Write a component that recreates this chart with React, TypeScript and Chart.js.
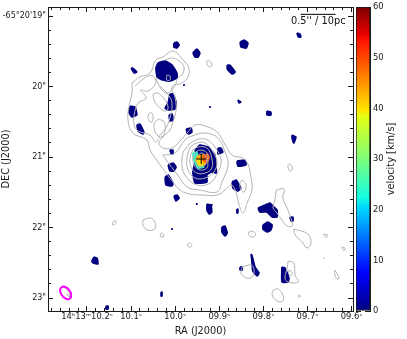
import React, { useEffect, useRef } from "react";
import { Chart, registerables } from "chart.js";

Chart.register(...registerables);

type P = [number, number];

// axis ticks (RA seconds, DEC arcseconds)
const raMajorTicks = [10.2, 10.1, 10.0, 9.9, 9.8, 9.7, 9.6];
const raTickLabels = ["14ʰ13ᵐ10.2ˢ", "10.1ˢ", "10.0ˢ", "09.9ˢ", "09.8ˢ", "09.7ˢ", "09.6ˢ"];
const raMinorTicks = [10.28, 10.26, 10.24, 10.22, 10.2, 10.18, 10.16, 10.14, 10.12, 10.1, 10.08, 10.06, 10.04, 10.02, 10.0, 9.98, 9.96, 9.94, 9.92, 9.9, 9.88, 9.86, 9.84, 9.82, 9.8, 9.78, 9.76, 9.74, 9.72, 9.7, 9.68, 9.66, 9.64, 9.62, 9.6];
const decMajorTicks = [19, 20, 21, 22, 23];
const decTickLabels = ["-65°20'19\"", "20\"", "21\"", "22\"", "23\""];
const decMinorTicks = [19, 19.2, 19.4, 19.6, 19.8, 20, 20.2, 20.4, 20.6, 20.8, 21, 21.2, 21.4, 21.6, 21.8, 22, 22.2, 22.4, 22.6, 22.8, 23];
const velocityTicks = [0, 10, 20, 30, 40, 50, 60];

// contours of the continuum [RA s, DEC "]
const contourOuter: P[] = [[10.098,19.950],[10.080,19.865],[10.057,19.809],[10.044,19.624],[10.028,19.582],[10.005,19.496],[9.982,19.624],[9.969,19.738],[9.971,19.865],[9.985,19.950],[10.007,20.007],[10.000,20.163],[9.998,20.333],[10.005,20.504],[10.012,20.617],[10.030,20.730],[10.037,20.801],[10.028,20.872],[10.007,20.872],[9.989,20.773],[9.973,20.660],[9.955,20.546],[9.932,20.560],[9.905,20.645],[9.889,20.801],[9.871,20.972],[9.848,21.014],[9.835,21.099],[9.828,21.298],[9.826,21.468],[9.837,21.652],[9.846,21.794],[9.855,21.681],[9.862,21.496],[9.873,21.397],[9.887,21.468],[9.905,21.539],[9.937,21.539],[9.966,21.525],[9.989,21.468],[10.012,21.298],[10.034,21.113],[10.057,20.901],[10.064,20.759],[10.096,20.660],[10.107,20.475],[10.105,20.291],[10.098,20.092]];
const contourWest: P[] = [[10.091,19.993],[10.066,19.865],[10.050,19.851],[10.044,19.950],[10.062,20.064],[10.078,20.050],[10.066,20.163],[10.084,20.234],[10.093,20.404],[10.093,20.546],[10.084,20.631],[10.057,20.688],[10.044,20.787],[10.034,20.688],[10.021,20.589],[10.012,20.447],[10.007,20.262],[10.012,20.149],[10.034,19.993]];
const contourNorth: P[] = [[10.044,19.879],[10.039,19.950],[10.030,20.050],[10.016,20.092],[10.000,19.979],[9.994,19.879],[9.982,19.809],[9.982,19.695],[10.005,19.596],[10.023,19.624]];
const contourCentre: P[] = [[10.028,20.972],[10.000,20.943],[9.978,20.759],[9.962,20.702],[9.932,20.660],[9.903,20.730],[9.887,20.929],[9.880,21.113],[9.894,21.355],[9.905,21.496],[9.944,21.468],[9.973,21.425],[9.994,21.255],[10.012,21.113]];
const ring1: P[] = [[9.982,20.929],[9.962,20.787],[9.932,20.745],[9.910,20.858],[9.896,21.043],[9.903,21.213],[9.921,21.369],[9.951,21.397],[9.978,21.255],[9.985,21.071]];
const ring2: P[] = [[9.966,20.858],[9.951,20.801],[9.932,20.801],[9.914,20.929],[9.905,21.085],[9.914,21.227],[9.932,21.298],[9.955,21.298],[9.971,21.184],[9.973,21.000]];
const ring3: P[] = [[9.960,20.901],[9.948,20.858],[9.928,20.872],[9.917,21.014],[9.917,21.156],[9.932,21.227],[9.951,21.227],[9.964,21.142],[9.966,21.000]];
const ring4: P[] = [[9.955,20.943],[9.944,20.901],[9.928,20.943],[9.926,21.071],[9.928,21.156],[9.944,21.184],[9.957,21.113],[9.960,21.014]];
const ring5: P[] = [[9.951,20.986],[9.939,20.943],[9.930,21.014],[9.932,21.113],[9.944,21.142],[9.951,21.085],[9.953,21.014]];
const loopA: P[] = [[10.050,20.106],[10.039,20.092],[10.023,20.191],[10.016,20.305],[10.023,20.348],[10.037,20.291],[10.048,20.191]];
const loopB: P[] = [[10.059,20.376],[10.053,20.376],[10.050,20.447],[10.053,20.504],[10.057,20.504],[10.062,20.433]];
const loopC: P[] = [[10.037,20.461],[10.025,20.504],[10.023,20.617],[10.030,20.716],[10.041,20.688],[10.048,20.589],[10.046,20.504]];
const loopD: P[] = [[9.926,19.624],[9.919,19.652],[9.917,19.709],[9.923,19.723],[9.928,19.681],[9.928,19.638]];
const loopE: P[] = [[10.019,19.837],[10.012,19.851],[10.012,19.908],[10.019,19.908]];
const loopF: P[] = [[9.848,21.326],[9.839,21.397],[9.844,21.496],[9.851,21.468],[9.853,21.369]];
const loopG: P[] = [[10.073,21.894],[10.057,21.865],[10.046,21.922],[10.046,22.021],[10.064,22.035],[10.073,21.965]];
const loopH: P[] = [[10.143,21.950],[10.139,21.908],[10.134,21.908],[10.136,21.950],[10.141,21.965]];
const loopI: P[] = [[10.034,22.092],[10.030,22.078],[10.025,22.121],[10.028,22.135],[10.032,22.135],[10.034,22.106]];
const loopJ: P[] = [[9.973,22.248],[9.969,22.220],[9.964,22.234],[9.962,22.262],[9.969,22.277]];
const loopK: P[] = [[9.744,21.113],[9.740,21.099],[9.735,21.142],[9.735,21.184],[9.740,21.199],[9.744,21.156]];
const loopL: P[] = [[9.771,21.468],[9.753,21.454],[9.756,21.582],[9.746,21.723],[9.735,21.922],[9.735,21.979],[9.746,21.979],[9.758,21.894],[9.769,21.794],[9.778,21.723],[9.774,21.610]];
const loopM: P[] = [[9.731,22.021],[9.699,22.092],[9.692,22.220],[9.701,22.291],[9.712,22.205],[9.728,22.106]];
const loopN: P[] = [[9.833,22.064],[9.824,22.050],[9.817,22.106],[9.826,22.135],[9.833,22.106]];
const loopO: P[] = [[9.663,22.092],[9.654,22.106],[9.656,22.135],[9.660,22.135]];
const loopP: P[] = [[9.622,22.277],[9.615,22.291],[9.617,22.333],[9.620,22.305]];
const loopQ: P[] = [[9.638,22.603],[9.631,22.674],[9.629,22.730],[9.633,22.730],[9.638,22.674]];
const loopR: P[] = [[9.719,22.957],[9.715,22.972],[9.719,22.986],[9.721,22.972]];
const loopS: P[] = [[9.778,22.887],[9.767,22.872],[9.756,22.957],[9.756,23.043],[9.769,23.043],[9.780,22.957]];
const loopT: P[] = [[9.744,22.475],[9.731,22.504],[9.728,22.674],[9.721,22.773],[9.744,22.773],[9.751,22.716],[9.746,22.574]];
const loopU: P[] = [[9.742,22.603],[9.735,22.631],[9.735,22.674],[9.742,22.660]];
const loopV: P[] = [[9.848,22.560],[9.828,22.532],[9.821,22.603],[9.826,22.702],[9.839,22.716],[9.851,22.645]];
const closedContours = [contourOuter, contourCentre, ring1, ring2, ring3, ring4, ring5, loopA, loopB, loopC, loopD, loopE, loopF, loopG, loopH, loopI, loopJ, loopK, loopL, loopM, loopN, loopO, loopP, loopQ, loopR, loopS, loopT, loopU, loopV];
const openContours = [contourWest, contourNorth];

// CO clumps at low velocity [RA s, DEC "]
const clumpNorth: P[] = [[10.044,19.738],[10.039,19.667],[10.023,19.638],[10.007,19.695],[9.996,19.809],[9.996,19.879],[10.012,19.922],[10.028,19.908],[10.041,19.865]];
const clumpCore: P[] = [[9.955,20.901],[9.944,20.830],[9.926,20.858],[9.910,20.972],[9.907,21.227],[9.917,21.213],[9.928,21.255],[9.928,21.355],[9.955,21.369],[9.960,21.213],[9.953,21.014]];
const clumpSouthEast: P[] = [[9.812,21.723],[9.796,21.681],[9.785,21.652],[9.776,21.709],[9.769,21.752],[9.769,21.851],[9.780,21.851],[9.792,21.780],[9.808,21.780]];
const smallClumps: P[][] = [
  [[9.960,19.525],[9.951,19.468],[9.944,19.525],[9.948,19.582],[9.955,19.582]],
  [[10.003,19.383],[9.996,19.369],[9.991,19.411],[9.996,19.454],[10.003,19.440]],
  [[10.100,19.738],[10.096,19.738],[10.087,19.794],[10.093,19.809]],
  [[10.012,20.106],[10.005,20.106],[9.998,20.220],[10.000,20.319],[10.014,20.333],[10.023,20.305],[10.016,20.234]],
  [[10.014,20.404],[10.007,20.390],[10.005,20.475],[10.012,20.489]],
  [[10.102,20.277],[10.091,20.291],[10.087,20.404],[10.098,20.433],[10.105,20.362]],
  [[10.087,20.546],[10.080,20.532],[10.071,20.645],[10.073,20.674],[10.084,20.631]],
  [[9.975,20.603],[9.964,20.589],[9.962,20.645],[9.969,20.674],[9.973,20.660]],
  [[10.016,21.113],[10.005,21.085],[9.998,21.142],[10.003,21.199],[10.012,21.199]],
  [[10.012,20.901],[10.005,20.901],[10.005,20.957],[10.009,20.957]],
  [[10.023,21.284],[10.016,21.255],[10.005,21.369],[10.007,21.411],[10.021,21.397]],
  [[10.003,21.553],[9.996,21.539],[9.991,21.582],[9.998,21.624]],
  [[9.903,20.872],[9.896,20.872],[9.892,20.929],[9.903,20.957]],
  [[9.860,21.057],[9.842,21.043],[9.839,21.113],[9.858,21.128]],
  [[9.871,21.355],[9.862,21.326],[9.851,21.440],[9.858,21.482],[9.869,21.440]],
  [[9.928,21.667],[9.919,21.681],[9.917,21.780],[9.923,21.809],[9.928,21.752]],
  [[9.860,21.738],[9.858,21.738],[9.858,21.794],[9.860,21.794]],
  [[9.740,21.851],[9.733,21.851],[9.733,21.908],[9.737,21.908]],
  [[9.801,21.965],[9.790,21.922],[9.780,21.965],[9.783,22.035],[9.792,22.064],[9.801,22.021]],
  [[9.894,21.993],[9.887,21.979],[9.882,22.078],[9.887,22.121],[9.894,22.064]],
  [[9.828,22.376],[9.826,22.390],[9.819,22.560],[9.810,22.645],[9.814,22.688],[9.824,22.617],[9.826,22.489]],
  [[9.853,22.560],[9.848,22.560],[9.848,22.603],[9.853,22.603]],
  [[9.758,22.560],[9.751,22.574],[9.742,22.716],[9.744,22.773],[9.758,22.773]],
  [[9.853,19.369],[9.844,19.340],[9.835,19.383],[9.839,19.454],[9.851,19.440]],
  [[9.724,19.241],[9.717,19.255],[9.715,19.298],[9.721,19.298]],
  [[9.882,19.695],[9.876,19.695],[9.864,19.794],[9.871,19.823],[9.882,19.752]],
  [[9.858,20.191],[9.851,20.220],[9.855,20.234]],
  [[9.792,20.348],[9.783,20.362],[9.783,20.404],[9.792,20.404]],
  [[9.735,20.688],[9.726,20.716],[9.728,20.759],[9.731,20.801],[9.735,20.730]],
  [[10.184,22.418],[10.177,22.433],[10.175,22.518],[10.186,22.504],[10.189,22.475]],
  [[10.157,23.113],[10.152,23.113],[10.152,23.156],[10.157,23.156]],
  [[10.032,22.915],[10.030,22.915],[10.030,22.972],[10.032,22.972]],
];
const clumpDots: P[] = [[9.921,20.291],[9.951,21.667],[9.917,21.681],[10.007,22.021],[9.980,19.979]];
const contourDots: P[] = [[9.663,22.433]];

// nucleus velocities
const coreTeal: P[] = [[9.960,20.943],[9.951,20.929],[9.948,21.014],[9.951,21.071],[9.937,21.113],[9.935,21.142],[9.948,21.156],[9.957,21.057]];
const coreOrange: P[] = [[9.951,20.986],[9.935,20.972],[9.930,21.043],[9.932,21.099],[9.946,21.113],[9.953,21.057]];
const coreRed: P[] = [[9.937,20.986],[9.926,20.957],[9.923,21.014],[9.928,21.071],[9.935,21.057]];
const coreYellow: P[] = [[9.951,21.028],[9.939,21.071],[9.939,21.113],[9.948,21.113]];
const nucleus: P[] = [[9.941,21.028]];

// synthesised beam and scale bar
const beamOutline: P[] = [[10.239,23.013],[10.236,22.976],[10.237,22.921],[10.243,22.868],[10.251,22.840],[10.257,22.845],[10.261,22.882],[10.259,22.938],[10.253,22.990],[10.245,23.018]];
const beamInner: P[] = [[10.248,22.865],[10.240,22.922],[10.239,22.986],[10.246,22.943]];
const scaleBar: P[] = [[9.7157,18.976],[9.6363,18.976]];

const jetStops: [number, string][] = [
  [0, "#00007f"], [0.11, "#0000f1"], [0.125, "#0000ff"], [0.34, "#00d8ff"], [0.375, "#16ffe1"],
  [0.5, "#7cff79"], [0.64, "#e4ff13"], [0.66, "#ffe600"], [0.89, "#ff1300"], [0.91, "#e80000"], [1, "#7f0000"],
];

const FONT = "'DejaVu Sans', sans-serif";
const INK = "#1a1a1a";
const CONTOUR = "#b2b2b2";
const CLUMP = "#000080";

const toPts = (a: P[]) => a.map(([x, y]) => ({ x, y }));
const closed = (a: P[]) => toPts([...a, a[0]]);

const lineSet = (data: any[], color: string, width = 1, tension = 0.4) => ({
  data, showLine: true, pointRadius: 0, borderColor: color, borderWidth: width, tension, fill: false,
});
const blobSet = (a: P[], color: string, width = 1.6) => ({
  data: closed(a), showLine: true, pointRadius: 0, borderColor: color, backgroundColor: color,
  borderWidth: width, tension: 0.15, fill: "shape",
});

const tickAxis = (
  position: string, min: number, max: number, reverse: boolean, values: number[], len: number,
  size: number, border: boolean, extra: any = {},
) => ({
  type: "linear", position, min, max, reverse,
  axis: position === "left" || position === "right" ? "y" : "x",
  afterBuildTicks: (s: any) => { s.ticks = values.map((value) => ({ value })); },
  afterFit: (s: any) => {
    if (s.isHorizontal()) s.height = size; else s.width = size;
    s.paddingTop = 0; s.paddingBottom = 0; s.paddingLeft = 0; s.paddingRight = 0;
  },
  border: { display: border, color: INK, width: 1 },
  grid: { drawOnChartArea: false, drawTicks: true, tickLength: -len, tickColor: INK, tickWidth: 1 },
  ticks: { display: false },
  ...extra,
});

const tickFont = { family: FONT, size: 8.4 };
const decFont = { family: FONT, size: 8 };
const titleFont = { family: FONT, size: 9.8 };

export default function App() {
  const mainRef = useRef<HTMLCanvasElement>(null);
  const barRef = useRef<HTMLCanvasElement>(null);

  useEffect(() => {
    const X: [number, number] = [9.5968, 10.2884];
    const Y: [number, number] = [18.872, 23.184];
    const datasets: any[] = [
      { data: toPts(nucleus), pointStyle: "cross", pointRadius: 5, pointBorderColor: "#000", pointBorderWidth: 1 },
      lineSet(toPts(scaleBar), "#000", 1, 0),
      lineSet(closed(beamOutline), "#ff00ff", 2),
      lineSet(toPts(beamInner), "#8c8c8c", 1),
      ...closedContours.map((c) => lineSet(closed(c), CONTOUR)),
      ...openContours.map((c) => lineSet(toPts(c), CONTOUR)),
      { data: toPts(contourDots), pointRadius: 0.8, pointBackgroundColor: CONTOUR, pointBorderWidth: 0 },
      { data: toPts(clumpDots), pointRadius: 1.1, pointBackgroundColor: CLUMP, pointBorderWidth: 0 },
      blobSet(coreYellow, "#ffe000"),
      blobSet(coreRed, "#ff5a00"),
      blobSet(coreOrange, "#ffaa00"),
      blobSet(coreTeal, "#30f0c0"),
      blobSet(clumpNorth, CLUMP),
      blobSet(clumpCore, CLUMP),
      blobSet(clumpSouthEast, CLUMP),
      ...smallClumps.map((c) => blobSet(c, CLUMP)),
    ];

    const main = new Chart(mainRef.current!, {
      type: "scatter",
      data: { datasets },
      options: {
        responsive: false,
        animation: false,
        devicePixelRatio: 1,
        layout: { padding: { left: 0, right: 54, top: 7, bottom: 0 } },
        plugins: { legend: { display: false }, tooltip: { enabled: false } },
        scales: {
          x: tickAxis("bottom", X[0], X[1], true, raMajorTicks, 5, 28, true, {
            ticks: {
              display: true, autoSkip: false, maxRotation: 0, minRotation: 0, padding: 6, color: INK, font: tickFont,
              callback: (_v: any, i: number) => raTickLabels[i],
            },
            title: { display: true, text: "RA (J2000)", color: INK, font: titleFont, padding: 2 },
          }),
          x1: tickAxis("bottom", X[0], X[1], true, raMinorTicks, 3, 0, false, { weight: -1 }),
          x2: tickAxis("top", X[0], X[1], true, raMajorTicks, 5, 0, true),
          x3: tickAxis("top", X[0], X[1], true, raMinorTicks, 3, 0, false, { weight: -1 }),
          y: tickAxis("left", Y[0], Y[1], true, decMajorTicks, 5, 48, true, {
            ticks: {
              display: true, autoSkip: false, padding: 7, color: INK, font: decFont,
              callback: (_v: any, i: number) => decTickLabels[i],
            },
            title: { display: true, text: "DEC (J2000)", color: INK, font: titleFont, padding: 1 },
          }),
          y1: tickAxis("left", Y[0], Y[1], true, decMinorTicks, 3, 0, false, { weight: -1 }),
          y2: tickAxis("right", Y[0], Y[1], true, decMajorTicks, 5, 0, true),
          y3: tickAxis("right", Y[0], Y[1], true, decMinorTicks, 3, 0, false, { weight: -1 }),
        } as any,
      },
      plugins: [{
        id: "scaleLabel",
        afterDraw(c: any) {
          const { ctx, scales } = c;
          ctx.save();
          ctx.font = `9.8px ${FONT}`;
          ctx.fillStyle = "#111";
          ctx.textAlign = "center";
          ctx.textBaseline = "middle";
          ctx.fillText("0.5'' / 10pc", scales.x.getPixelForValue(9.6755), scales.y.getPixelForValue(19.08));
          ctx.restore();
        },
      }],
    } as any);

    const bar = new Chart(barRef.current!, {
      type: "bar",
      data: {
        labels: ["velocity"],
        datasets: [{
          data: [[velocityTicks[0], velocityTicks[velocityTicks.length - 1]]],
          barPercentage: 1,
          categoryPercentage: 1,
          borderColor: INK,
          borderWidth: 1,
          borderSkipped: false,
          backgroundColor: (ctx: any) => {
            const area = ctx.chart.chartArea;
            if (!area) return "#00007f";
            const g = ctx.chart.ctx.createLinearGradient(0, area.bottom, 0, area.top);
            jetStops.forEach(([o, col]) => g.addColorStop(o, col));
            return g;
          },
        }],
      } as any,
      options: {
        responsive: false,
        animation: false,
        devicePixelRatio: 1,
        layout: { padding: { left: 356, top: 7, bottom: 28, right: 0 } },
        plugins: { legend: { display: false }, tooltip: { enabled: false } },
        scales: {
          x: { display: false },
          y: tickAxis("right", 0, 60, false, velocityTicks, 5, 37, true, {
            ticks: { display: true, autoSkip: false, padding: 8, color: INK, font: tickFont },
          }),
          y2: tickAxis("left", 0, 60, false, velocityTicks, 5, 0, true),
        } as any,
      },
      plugins: [{
        id: "barTitle",
        afterDraw(c: any) {
          const { ctx, chartArea } = c;
          ctx.save();
          ctx.font = `9.8px ${FONT}`;
          ctx.fillStyle = INK;
          ctx.textAlign = "center";
          ctx.textBaseline = "middle";
          ctx.translate(391, (chartArea.top + chartArea.bottom) / 2);
          ctx.rotate(-Math.PI / 2);
          ctx.fillText("velocity [km/s]", 0, 0);
          ctx.restore();
        },
      }],
    } as any);

    return () => { main.destroy(); bar.destroy(); };
  }, []);

  const layer: React.CSSProperties = { position: "absolute", left: 0, top: 0, display: "block" };
  return (
    <div style={{ position: "absolute", left: 0, top: 0, width: 407, height: 339, background: "#fff" }}>
      <canvas ref={mainRef} width={407} height={339} style={layer} />
      <canvas ref={barRef} width={407} height={339} style={layer} />
    </div>
  );
}
